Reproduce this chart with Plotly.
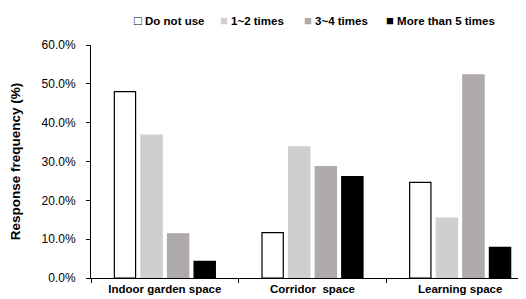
import plotly.graph_objects as go

categories = ["Indoor garden space", "Corridor\u00a0 space", "Learning space"]
series_names = ["Do not use", "1~2 times", "3~4 times", "More than 5 times"]
do_not_use = [48.0, 11.7, 24.6]
times_1_2 = [36.8, 33.8, 15.4]
times_3_4 = [11.4, 28.7, 52.3]
more_than_5 = [4.3, 26.1, 7.9]
y_ticks = [0, 10, 20, 30, 40, 50, 60]

values = [do_not_use, times_1_2, times_3_4, more_than_5]
fills = ["#ffffff", "#d0cece", "#aeaaaa", "#000000"]
lines = ["#000000", "#d0cece", "#aeaaaa", "#000000"]
key_glyphs = ["\u25a1", "\u25a0", "\u25a0", "\u25a0"]
key_colors = ["#000000", "#d0cece", "#aeaaaa", "#000000"]
legend_px = [124, 210, 294, 376]

FONT = "Liberation Sans"
L, R, T, B, W, H = 83, 0, 37, 29, 526, 299
fig = go.Figure()
for name, vals, fc, lc in zip(series_names, values, fills, lines):
    fig.add_trace(go.Bar(
        x=categories, y=vals, name=name, showlegend=False,
        marker=dict(color=fc, line=dict(color=lc, width=1.2)),
    ))

# legend row (as text keys, like the original)
for name, g, c, px in zip(series_names, key_glyphs, key_colors, legend_px):
    fig.add_annotation(
        xref="paper", yref="paper",
        x=(px - L) / (W - L - R), y=(H - B - 12) / (H - T - B),
        xanchor="left", yanchor="middle", showarrow=False,
        text=f"<span style='color:{c};font-size:13px'>{g}</span> <b>{name}</b>",
        font=dict(family=FONT, size=11.5, color="#000"),
    )

fig.update_layout(
    width=W, height=H,
    margin=dict(l=L, r=R, t=T, b=B),
    paper_bgcolor="white", plot_bgcolor="white",
    barmode="group", bargap=0.28, bargroupgap=0.2,
    font=dict(family=FONT, size=11, color="#000000"),
    showlegend=False,
)
fig.update_yaxes(
    range=[0, 60], tickvals=y_ticks, ticktext=[f"{v:.1f}%" for v in y_ticks],
    showgrid=False, zeroline=False, showline=True, linecolor="#000", linewidth=1,
    ticks="outside", ticklen=4, tickcolor="#000", ticklabelstandoff=8,
    tickfont=dict(family=FONT, size=12),
    title=dict(text="<b>Response frequency (%)</b>", font=dict(family=FONT, size=13.5), standoff=20),
)
fig.update_xaxes(
    showgrid=False, showline=True, linecolor="#000", linewidth=1,
    ticks="outside", tickson="boundaries", ticklen=4, tickcolor="#000",
    tickvals=categories, ticktext=[f"<b>{c}</b>" for c in categories],
    tickfont=dict(family=FONT, size=11.5),
)
fig.write_html("out.html")
